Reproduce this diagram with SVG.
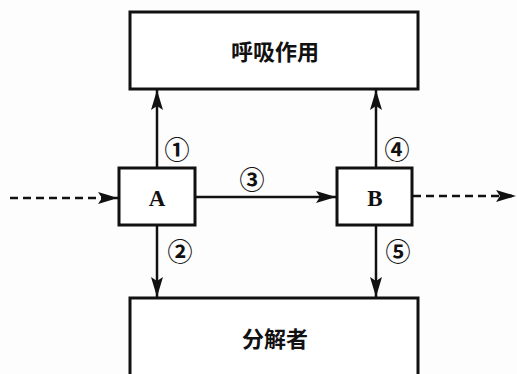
<svg xmlns="http://www.w3.org/2000/svg" width="517" height="374" viewBox="0 0 517 374">
<defs>
<style>
.box{fill:#fff;stroke:#111;stroke-width:3}
.ln{stroke:#111;stroke-width:2.5;fill:none}
.dash{stroke:#111;stroke-width:2.5;fill:none;stroke-dasharray:8,5}
.cjk{font-family:"Noto Sans CJK SC","Noto Sans CJK JP",sans-serif;font-size:22px;font-weight:bold;fill:#111;text-anchor:middle}
.lt{font-family:"Liberation Serif",serif;font-size:23px;font-weight:bold;fill:#111;text-anchor:middle}
.num{font-family:"Noto Sans CJK SC","Noto Sans CJK JP",sans-serif;font-size:25px;font-weight:bold;fill:#111;text-anchor:middle}
</style>
<marker id="a" viewBox="0 0 20 12" refX="20" refY="6" markerWidth="20" markerHeight="12" markerUnits="userSpaceOnUse" orient="auto">
<path d="M0,0 L20,6 L0,12 L4,6 z" fill="#111"/>
</marker>
</defs>
<rect width="517" height="374" fill="#fdfdfd"/>
<g id="connectors">
<line class="ln" x1="157" y1="168" x2="157" y2="90" marker-end="url(#a)"/>
<line class="ln" x1="157" y1="225" x2="157" y2="297" marker-end="url(#a)"/>
<line class="ln" x1="376" y1="168" x2="376" y2="90" marker-end="url(#a)"/>
<line class="ln" x1="376" y1="225" x2="376" y2="297" marker-end="url(#a)"/>
<line class="ln" x1="196" y1="197" x2="336" y2="197" marker-end="url(#a)"/>
<line class="dash" x1="10" y1="198" x2="118" y2="198" marker-end="url(#a)"/>
<line class="dash" x1="413" y1="196" x2="516" y2="196" marker-end="url(#a)"/>
<text class="num" x="177" y="159">①</text>
<text class="num" x="180" y="261">②</text>
<text class="num" x="252" y="189">③</text>
<text class="num" x="397" y="159">④</text>
<text class="num" x="398" y="261">⑤</text>
</g>
<g id="respiration">
<rect class="box" x="130" y="12" width="288" height="77"/>
<text class="cjk" x="275" y="60">呼吸作用</text>
</g>
<g id="decomposer">
<rect class="box" x="130" y="298" width="288" height="80"/>
<text class="cjk" x="275" y="347">分解者</text>
</g>
<g id="A">
<rect class="box" x="119" y="168" width="76" height="57"/>
<text class="lt" x="157" y="206">A</text>
</g>
<g id="B">
<rect class="box" x="337" y="168" width="75" height="57"/>
<text class="lt" x="375" y="206">B</text>
</g>
</svg>
